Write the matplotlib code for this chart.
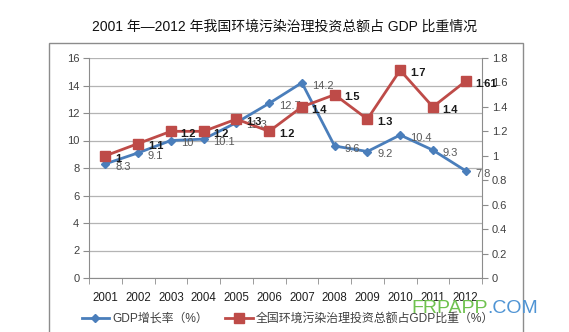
import matplotlib
matplotlib.use("Agg")
import matplotlib.pyplot as plt
from matplotlib.patches import Rectangle
from matplotlib.lines import Line2D

plt.rcParams['font.family'] = ['Liberation Sans', 'Noto Sans CJK SC', 'DejaVu Sans']

years = ['2001', '2002', '2003', '2004', '2005', '2006', '2007', '2008', '2009', '2010', '2011', '2012']
gdp_growth = [8.3, 9.1, 10, 10.1, 11.3, 12.7, 14.2, 9.6, 9.2, 10.4, 9.3, 7.8]
invest_share = [1, 1.1, 1.2, 1.2, 1.3, 1.2, 1.4, 1.5, 1.3, 1.7, 1.4, 1.61]
left_ticks = [0, 2, 4, 6, 8, 10, 12, 14, 16]
right_ticks = [0, 0.2, 0.4, 0.6, 0.8, 1.0, 1.2, 1.4, 1.6, 1.8]
right_tick_labels = ['0', '0.2', '0.4', '0.6', '0.8', '1', '1.2', '1.4', '1.6', '1.8']
title = '2001 年—2012 年我国环境污染治理投资总额占 GDP 比重情况'
series_names = ['GDP增长率（%）', '全国环境污染治理投资总额占GDP比重（%）']

W, H = 569, 332
fig = plt.figure(figsize=(W / 100, H / 100), dpi=100)
fig.patch.set_facecolor('white')

# outer chart frame
fig.patches.append(Rectangle((49 / W, -0.05), (523 - 49) / W, 0.05 + 1 - 42.5 / H,
                             transform=fig.transFigure, fill=False,
                             edgecolor='#8c8c8c', linewidth=1.0))

ax = fig.add_axes([89 / W, 1 - 278 / H, (482 - 89) / W, (278 - 58) / H])
ax2 = ax.twinx()

blue = '#4a7ebb'
red = '#be4b48'
grid_c = '#b4b4b4'
axis_c = '#8c8c8c'

x = list(range(len(years)))

ax.set_xlim(-0.5, len(years) - 0.5)
ax.set_ylim(0, 16)
ax.set_yticks(left_ticks)
ax.set_yticklabels([str(t) for t in left_ticks])
ax.set_xticks(x)
ax.set_xticklabels(years)
ax.set_xticks([i - 0.5 for i in range(len(years) + 1)], minor=True)
ax.tick_params(axis='x', which='major', length=0, pad=10, labelsize=8.3, labelcolor='#1f1f1f')
ax.tick_params(axis='x', which='minor', length=4, color=axis_c, direction='out')
ax.tick_params(axis='y', length=4, color=axis_c, labelsize=8, labelcolor='#404040', pad=3)
ax.grid(axis='y', color=grid_c, linewidth=0.9)
ax.set_axisbelow(True)
for s in ['top', 'right']:
    ax.spines[s].set_visible(False)
for s in ['left', 'bottom']:
    ax.spines[s].set_color(axis_c)

ax2.set_ylim(0, 1.8)
ax2.set_yticks(right_ticks)
ax2.set_yticklabels(right_tick_labels)
ax2.tick_params(axis='y', length=4, color=axis_c, labelsize=8, labelcolor='#404040', pad=3)
for s in ['top', 'left', 'bottom']:
    ax2.spines[s].set_visible(False)
ax2.spines['right'].set_color(axis_c)

ax.plot(x, gdp_growth, color=blue, linewidth=2.0, marker='D', markersize=4.5,
        markerfacecolor=blue, markeredgecolor=blue, zorder=3)
ax2.plot(x, invest_share, color=red, linewidth=2.0, marker='s', markersize=7,
         markerfacecolor=red, markeredgecolor=red, zorder=3)

for xi, v in zip(x, gdp_growth):
    ax.annotate(f'{v:g}', (xi, v), xytext=(7, -2), textcoords='offset points',
                ha='left', va='center', fontsize=8, color='#595959', zorder=4)
for xi, v in zip(x, invest_share):
    ax2.annotate(f'{v:g}', (xi, v), xytext=(7, -2), textcoords='offset points',
                 ha='left', va='center', fontsize=8, color='#1a1a1a',
                 fontweight='bold', zorder=4)

fig.text(285 / W, 1 - 27 / H, title, ha='center', va='center', fontsize=10, color='#111111')

handles = [
    Line2D([0], [0], color=blue, linewidth=2.0, marker='D', markersize=4.5),
    Line2D([0], [0], color=red, linewidth=2.0, marker='s', markersize=7),
]
fig.legend(handles, series_names, loc='center', bbox_to_anchor=(288 / W, 1 - 319 / H),
           ncol=2, frameon=False, fontsize=8.6, handlelength=2.3, handletextpad=0.3,
           columnspacing=1.4, labelcolor='#404040')

# watermark
t1 = fig.text(411 / W, 1 - 308.5 / H, 'FRPAPP', ha='left', va='center', fontsize=14,
              color='#6fc24f')
fig.canvas.draw()
bb = t1.get_window_extent(renderer=fig.canvas.get_renderer())
fig.text(bb.x1 / W, 1 - 308.5 / H, '.COM', ha='left', va='center', fontsize=14,
         color='#4f94d4')

fig.savefig('out.png', dpi=100, facecolor='white')
